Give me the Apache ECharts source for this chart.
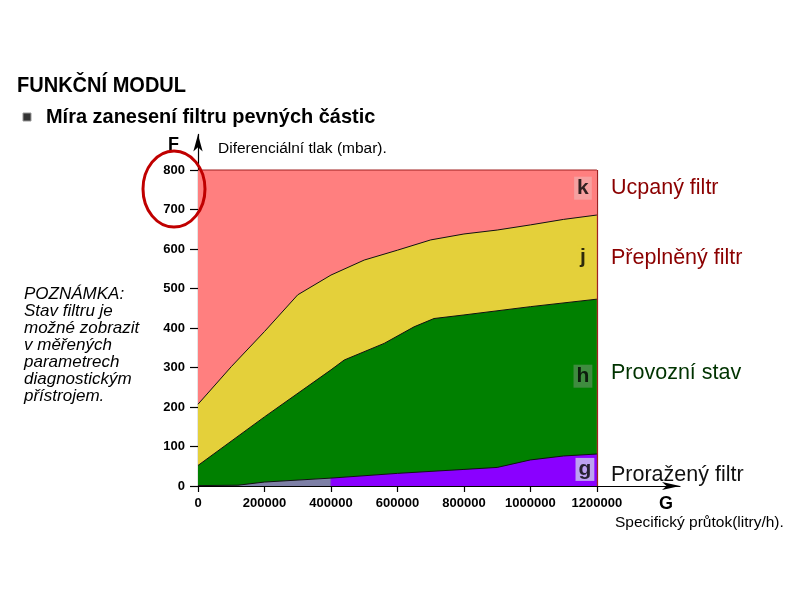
<!DOCTYPE html>
<html>
<head>
<meta charset="utf-8">
<script src="https://cdn.jsdelivr.net/npm/echarts@6/dist/echarts.min.js"></script>
<style>html,body{margin:0;padding:0;background:#fff}#c{width:800px;height:600px}</style>
</head>
<body>
<div id="c"></div>
<script>
// Data (flow in l/h, pressure in mbar) – boundaries of the filter state zones
const xTicks = [0, 200000, 400000, 600000, 800000, 1000000, 1200000];
const yTicks = [0, 100, 200, 300, 400, 500, 600, 700, 800];
const flowK = [0, 1200000];
const topK = [800, 800];
const flowJ = [0, 100000, 200000, 300000, 400000, 500000, 600000, 700000, 800000, 900000, 1000000, 1100000, 1200000];
const topJ = [207, 302, 391, 484, 534, 572, 597, 623, 638, 648, 661, 675, 686];
const flowH = [0, 200000, 400000, 440000, 560000, 650000, 710000, 800000, 1000000, 1200000];
const topH = [52, 175, 294, 319, 361, 403, 424, 433, 454, 473];
const flowG = [0, 120000, 200000, 400000, 600000, 800000, 900000, 1000000, 1100000, 1200000];
const topG = [1, 2, 10, 20, 32, 42, 47, 66, 76, 81];
const zoneLetters = ['k', 'j', 'h', 'g'];
const zoneLetterPos = [[1158000, 754], [1158000, 580], [1158000, 278], [1164000, 42]];
const zoneNames = ['Ucpaný filtr', 'Přeplněný filtr', 'Provozní stav', 'Proražený filtr'];

const pairs = (xs, ys) => xs.map((x, i) => [x, ys[i]]);
const letterBg = ['#f4a9a9', '#e4d03a', '#4f8f4f', '#c9c9ee'];
const nameColor = ['#8b0000', '#8b0000', '#003300', '#111111'];
const nameTop = [177, 247, 362, 464];
const font = 'Liberation Sans, Arial, sans-serif';

const chart = echarts.init(document.getElementById('c'));
const areaLine = (data, fill, lineColor, z) => ({
  type: 'line', data, symbol: 'none', z, silent: true,
  lineStyle: { color: lineColor, width: 1 },
  areaStyle: { color: fill, opacity: 1, origin: 'start' }
});
const txt = (text, left, top, size, extra) => ({
  type: 'text', left, top,
  style: Object.assign({ text, fontSize: size, fontFamily: font, fill: '#000' }, extra && extra.style),
  scaleX: extra && extra.scaleX || 1, originX: 0, originY: 0
});

chart.setOption({
  animation: false,
  grid: { left: 198, top: 134.45, right: 120, bottom: 114, containLabel: false },
  xAxis: {
    type: 'value', min: 0, max: 1450000, interval: 200000,
    axisLine: { show: true, lineStyle: { color: '#000', width: 1.2 }, symbol: ['none', 'arrow'], symbolSize: [6, 18] },
    axisTick: { show: true, length: 6, lineStyle: { color: '#000', width: 1.2 }, customValues: xTicks },
    axisLabel: { color: '#000', fontWeight: 'bold', fontSize: 13, fontFamily: font, margin: 11, customValues: xTicks, formatter: v => String(v) },
    splitLine: { show: false }
  },
  yAxis: {
    type: 'value', min: 0, max: 890, interval: 100,
    axisLine: { show: true, lineStyle: { color: '#000', width: 1.2 }, symbol: ['none', 'arrow'], symbolSize: [7, 17] },
    axisTick: { show: true, length: 8, lineStyle: { color: '#000', width: 1.2 }, customValues: yTicks },
    axisLabel: { color: '#000', fontWeight: 'bold', fontSize: 13, fontFamily: font, margin: 13, customValues: yTicks },
    splitLine: { show: false }
  },
  series: [
    Object.assign(areaLine(pairs(flowK, topK), '#ff7f7f', '#a02020', 1), {
      markLine: {
        symbol: 'none', silent: true, label: { show: false },
        lineStyle: { color: '#a02020', width: 1.2, type: 'solid' },
        data: [[{ coord: [flowK[1], 0] }, { coord: [flowK[1], topK[1]] }]]
      }
    }),
    areaLine(pairs(flowJ, topJ), '#e4d03a', '#111', 2),
    areaLine(pairs(flowH, topH), '#008000', '#111', 3),
    areaLine(pairs(flowG, topG), {
      type: 'linear', x: 0, y: 0, x2: 1, y2: 0,
      colorStops: [
        { offset: 0, color: '#7d7fa6' }, { offset: 0.33, color: '#7d7fa6' },
        { offset: 0.335, color: '#8a00ff' }, { offset: 1, color: '#8a00ff' }
      ]
    }, '#111', 4),
    {
      type: 'scatter', z: 10, symbolSize: 1, silent: true,
      itemStyle: { color: 'rgba(0,0,0,0)' },
      data: zoneLetterPos.map((p, i) => ({
        value: p, name: zoneLetters[i],
        label: { backgroundColor: letterBg[i] }
      })),
      label: {
        show: true, position: 'inside', formatter: p => p.name,
        color: '#000', fontWeight: 'bold', fontSize: 21, fontFamily: font,
        padding: [0, 3, 0, 3], lineHeight: 23
      }
    }
  ],
  graphic: [
    txt('FUNKČNÍ MODUL', 17, 75, 22, { style: { fontWeight: 'bold' }, scaleX: 0.91 }),
    { type: 'rect', shape: { x: 23, y: 113, width: 8, height: 8 }, style: { fill: '#333', stroke: '#999', lineWidth: 1 } },
    txt('Míra zanesení filtru pevných částic', 46, 107, 21, { style: { fontWeight: 'bold' }, scaleX: 0.95 }),
    txt('F', 168, 136, 18, { style: { fontWeight: 'bold' } }),
    txt('Diferenciální tlak (mbar).', 218, 141, 15.5),
    txt('G', 659, 495, 18, { style: { fontWeight: 'bold' } }),
    txt('Specifický průtok(litry/h).', 615, 515, 15.5),
    txt('POZNÁMKA:\nStav filtru je\nmožné zobrazit\nv měřených\nparametrech\ndiagnostickým\npřístrojem.', 24, 286, 17, { style: { fontStyle: 'italic', lineHeight: 17 } }),
    { type: 'ellipse', shape: { cx: 174, cy: 189, rx: 31, ry: 38 }, style: { fill: 'none', stroke: '#c00000', lineWidth: 3 }, z: 20 }
  ].concat(zoneNames.map((t, i) => txt(t, 611, nameTop[i], 21.5, { style: { fill: nameColor[i] } })))
});
</script>
</body>
</html>
